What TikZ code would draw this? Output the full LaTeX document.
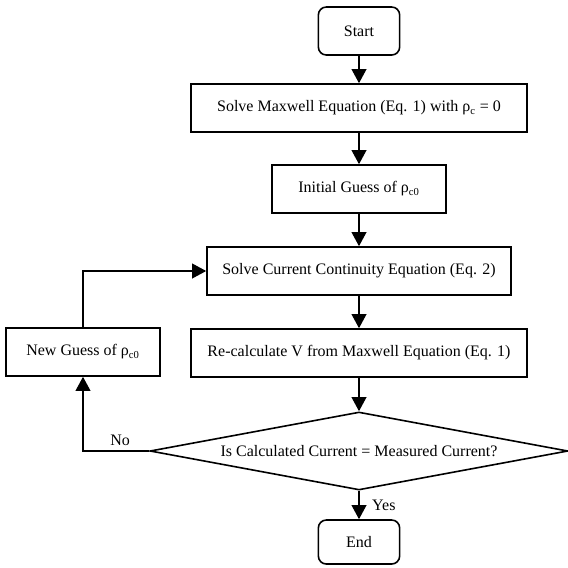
\documentclass[tikz,border=0pt]{standalone}
\usepackage{fontspec}
\setmainfont{Liberation Serif}
\usetikzlibrary{arrows.meta, positioning, shapes.geometric}

\begin{document}
\begin{tikzpicture}[x=0.75pt, y=-0.75pt,
    every node/.style={font=\fontsize{12}{14}\selectfont},
    procbox/.style={rectangle, draw, line width=1.2pt, minimum height=36pt, inner sep=0pt},
    termbox/.style={rectangle, draw, line width=1.2pt, rounded corners=6pt, minimum width=61pt, inner sep=0pt},
    decision/.style={diamond, draw, line width=1.2pt, aspect=5.36, minimum width=313.5pt, minimum height=58.5pt, inner sep=0pt},
    arr/.style={-{Triangle[length=10.5pt, width=11pt]}, line width=1.2pt}]
    \useasboundingbox (0,0) rectangle (568,568);
    \node[termbox, minimum height=36pt] (start) at (359,31) {Start};
    \node[procbox, minimum width=252pt] (maxwell) at (359,108) {Solve Maxwell Equation (Eq. 1) with ρ\textsubscript{c} = 0};
    \node[procbox, minimum width=130.5pt] (guess) at (359,189) {Initial Guess of ρ\textsubscript{c0}};
    \node[procbox, minimum width=228pt] (current) at (359,271) {Solve Current Continuity Equation (Eq. 2)};
    \node[procbox, minimum width=252pt] (recalc) at (359,353) {Re-calculate V from Maxwell Equation (Eq. 1)};
    \node[procbox, minimum width=115.5pt] (newguess) at (83,352) {New Guess of ρ\textsubscript{c0}};
    \node[decision] (check) at (359,451) {Is Calculated Current = Measured Current?};
    \node[termbox, minimum height=33pt] (end) at (359,542) {End};

    \draw[arr] (start) -- (maxwell);
    \draw[arr] (maxwell) -- (guess);
    \draw[arr] (guess) -- (current);
    \draw[arr] (current) -- (recalc);
    \draw[arr] (recalc) -- (check);
    \draw[arr] (check) -- node[right, xshift=6pt] {Yes} (end);
    \draw[arr] (check.west) -| node[above, pos=0.22] {No} (newguess.south);
    \draw[arr] (newguess.north) |- (current.west);
\end{tikzpicture}
\end{document}
